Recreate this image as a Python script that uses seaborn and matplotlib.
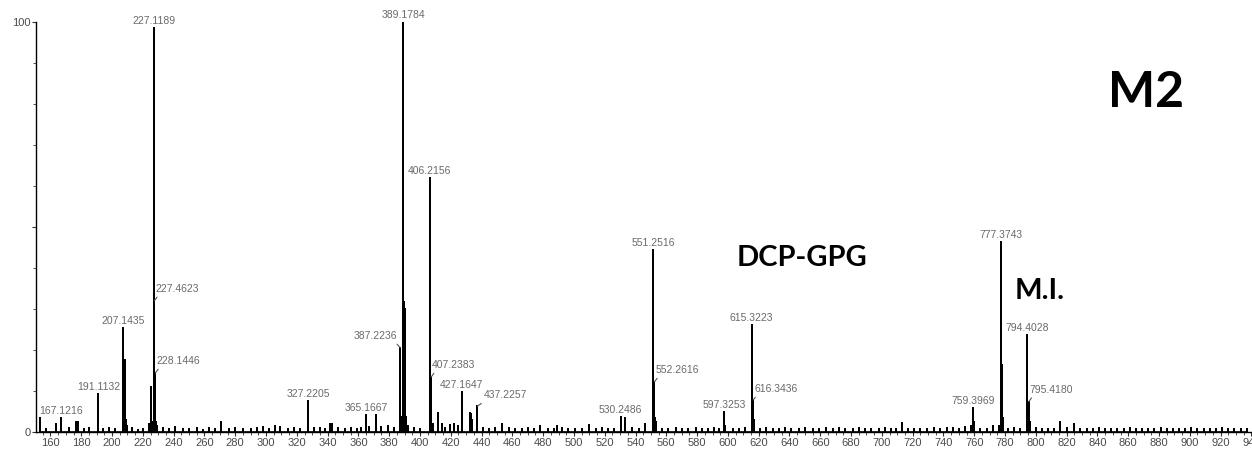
import matplotlib
matplotlib.use("Agg")
import matplotlib.pyplot as plt
from matplotlib.ticker import MultipleLocator, FixedLocator
import numpy as np
import pandas as pd
import seaborn as sns

# Labelled peaks (m/z, relative intensity %)
peak_mz = [167.1216, 191.1132, 207.1435, 227.1189, 227.4623, 228.1446, 327.2205,
           365.1667, 387.2236, 389.1784, 406.2156, 407.2383, 427.1647, 437.2257,
           530.2486, 551.2516, 552.2616, 597.3253, 615.3223, 616.3436, 759.3969,
           777.3743, 794.4028, 795.4180]
peak_int = [3.4, 9.3, 25.4, 98.5, 32.0, 14.4, 7.6,
            4.1, 20.5, 100.0, 62.0, 13.4, 9.7, 6.3,
            3.6, 44.4, 12.2, 5.0, 26.0, 7.8, 5.8,
            46.4, 23.7, 7.4]

# Unlabelled neighbouring / minor peaks
minor_mz = [153.2, 163.5, 176.8, 178.0, 208.2, 208.6, 209.3, 210.0, 224.2, 225.3,
            226.2, 228.8, 229.5, 271.0, 341.5, 343.0, 371.4, 388.0, 388.5, 389.5,
            390.0, 390.6, 391.2, 392.0, 408.5, 411.7, 414.0, 419.5, 422.0, 432.5,
            433.3, 434.0, 453.5, 478.0, 489.0, 509.7, 533.2, 546.0, 552.7, 553.2,
            598.0, 615.8, 616.8, 713.0, 758.0, 760.0, 776.2, 777.8, 778.3, 778.9,
            794.9, 796.2, 815.5, 825.0]
minor_int = [3.4, 2.0, 2.5, 2.5, 17.6, 3.7, 3.0, 1.5, 2.0, 11.0,
             2.5, 2.5, 1.5, 2.4, 2.0, 2.0, 4.1, 3.7, 3.7, 31.8,
             30.0, 3.7, 3.7, 1.5, 2.0, 4.7, 2.0, 1.7, 2.0, 4.6,
             4.3, 3.0, 2.0, 1.5, 1.5, 1.8, 3.4, 2.0, 3.5, 2.5,
             1.5, 17.1, 3.0, 2.2, 1.5, 2.5, 1.5, 16.3, 3.4, 3.4,
             3.5, 2.5, 2.5, 2.0]

# Baseline noise
noise_mz = [157, 172, 182, 185, 194, 198, 202, 213, 217, 220, 233, 237, 241, 246, 250,
            255, 259, 263, 267, 276, 280, 285, 290, 294, 298, 302, 306, 309, 314, 318,
            322, 331, 335, 338, 347, 351, 355, 359, 362, 367, 375, 379, 383, 396, 400,
            416, 425, 441, 445, 449, 458, 462, 466, 470, 474, 483, 487, 492, 496, 501,
            505, 514, 518, 522, 526, 538, 542, 557, 561, 566, 570, 574, 579, 583, 587,
            591, 594, 603, 607, 611, 621, 625, 629, 633, 637, 641, 646, 650, 655, 659,
            664, 668, 672, 676, 681, 685, 689, 693, 698, 702, 706, 709, 717, 721, 725,
            729, 734, 738, 742, 746, 750, 754, 764, 768, 772, 782, 786, 790, 800, 804,
            808, 812, 820, 829, 833, 837, 841, 845, 849, 853, 857, 861, 865, 869, 873,
            877, 881, 885, 889, 893, 897, 901, 905, 909, 913, 917, 921, 925, 929, 933, 937]
noise_int = [0.8, 0.9, 0.7, 1.0, 0.8, 1.0, 0.7, 0.9, 0.6, 0.8, 0.9, 0.7, 1.2, 0.8, 0.7,
             0.9, 0.6, 1.0, 0.8, 0.7, 0.9, 0.8, 0.7, 1.0, 1.2, 0.8, 1.4, 1.2, 0.7, 0.9,
             0.8, 1.0, 0.9, 0.8, 1.0, 0.7, 0.9, 0.8, 1.0, 1.2, 1.3, 1.5, 1.0, 1.0, 0.8,
             1.0, 1.4, 1.0, 0.8, 1.0, 0.9, 0.8, 0.7, 0.9, 0.8, 0.7, 0.8, 0.9, 0.7, 0.8,
             0.7, 0.8, 0.9, 0.7, 0.8, 0.9, 0.8, 0.8, 0.7, 0.9, 0.8, 0.7, 0.9, 0.8, 0.7,
             0.9, 0.8, 0.8, 0.7, 0.9, 0.8, 0.9, 0.7, 0.8, 0.9, 0.7, 0.8, 0.9, 0.7, 0.8,
             0.9, 0.7, 1.0, 0.8, 0.7, 0.9, 0.8, 0.7, 0.8, 0.9, 0.7, 0.8, 0.8, 0.7, 0.8,
             0.7, 1.0, 0.8, 0.9, 1.0, 0.8, 1.2, 0.8, 0.7, 1.4, 0.8, 0.9, 0.8, 0.9, 0.8,
             0.7, 0.8, 1.0, 0.8, 0.7, 0.8, 0.9, 0.7, 0.8, 0.7, 0.8, 0.9, 0.7, 0.8, 0.7,
             0.8, 0.9, 0.7, 0.8, 0.7, 0.8, 0.9, 0.7, 0.8, 0.7, 0.8, 0.9, 0.7, 0.8, 0.7, 0.8]

# Labels placed beside their line with a short leader: (side, pixel offset)
leader_side = {
    227.4623: ("right", (1, 7)), 228.1446: ("right", (1, 7)),
    387.2236: ("left", (-3, 7)), 407.2383: ("right", (1, 7)),
    437.2257: ("right", (6, 6)), 552.2616: ("right", (1, 7)),
    616.3436: ("right", (1, 6)), 795.4180: ("right", (1, 7)),
}

sns.set_style("ticks")
plt.rcParams["font.family"] = ["Liberation Sans", "DejaVu Sans"]

# Stick spectrum: each stick becomes (m, 0) -> (m, h) -> (m, 0)
sticks = pd.DataFrame({
    "mz": peak_mz + minor_mz + noise_mz,
    "intensity": peak_int + minor_int + noise_int,
}).sort_values("mz").reset_index(drop=True)
profile = pd.DataFrame({
    "mz": np.repeat(sticks["mz"].to_numpy(), 3),
    "intensity": np.column_stack([np.zeros(len(sticks)), sticks["intensity"],
                                  np.zeros(len(sticks))]).ravel(),
})

fig = plt.figure(figsize=(12.52, 4.49), dpi=100)
ax = fig.add_axes([36 / 1252, 17 / 449, 1 - 36 / 1252, 410 / 449])

sns.lineplot(data=profile, x="mz", y="intensity", sort=False, estimator=None,
             color="black", linewidth=1.2, ax=ax)

ax.set_xlim(150.6, 940.4)
ax.set_ylim(0, 100)
ax.set_xlabel("")
ax.set_ylabel("")
sns.despine(ax=ax)
for s in ("left", "bottom"):
    ax.spines[s].set_linewidth(1.0)
    ax.spines[s].set_color("black")

ax.xaxis.set_minor_locator(MultipleLocator(5))
ax.set_xticks(np.arange(160, 941, 20))
ax.set_xticklabels([str(v) for v in range(160, 941, 20)])
ax.yaxis.set_major_locator(FixedLocator([0, 50, 100]))
ax.set_yticklabels(["0", "", "100"])
ax.yaxis.set_minor_locator(MultipleLocator(10))
ax.tick_params(axis="x", which="major", length=3, width=0.8, color="#333333",
               labelsize=8, labelcolor="#4a4a4a", pad=1.5)
ax.tick_params(axis="x", which="minor", length=2, width=0.6, color="#333333")
ax.tick_params(axis="y", which="major", length=3, width=0.8, color="#333333",
               labelsize=8, labelcolor="#4a4a4a", pad=1)
ax.tick_params(axis="y", which="minor", length=2, width=0.6, color="#333333")

label_color = "#6a6a6a"
for m, h in zip(peak_mz, peak_int):
    txt = f"{m:.4f}"
    if m in leader_side:
        side, offset = leader_side[m]
        right = side == "right"
        ax.annotate(txt, xy=(m, h), xytext=offset, textcoords="offset pixels",
                    ha="left" if right else "right", va="bottom",
                    fontsize=7.5, color=label_color,
                    arrowprops=dict(arrowstyle="-", color="#555555", lw=0.8,
                                    relpos=(0.12, 0.15) if right else (0.9, 0.15),
                                    shrinkA=0, shrinkB=0),
                    annotation_clip=False)
    else:
        ax.annotate(txt, xy=(m, h), xytext=(0, 2), textcoords="offset pixels",
                    ha="center", va="bottom", fontsize=7.5, color=label_color,
                    annotation_clip=False)

bold = dict(family=["Lato", "DejaVu Sans"], fontweight="bold", color="black",
            ha="center", va="center")
ax.text(648.1, 42.4, "DCP-GPG", fontsize=21, **bold)
ax.text(802.7, 34.4, "M.I.", fontsize=21, **bold)
ax.text(871.6, 82.7, "M2", fontsize=36, **bold)

fig.savefig("out.png", dpi=100)
